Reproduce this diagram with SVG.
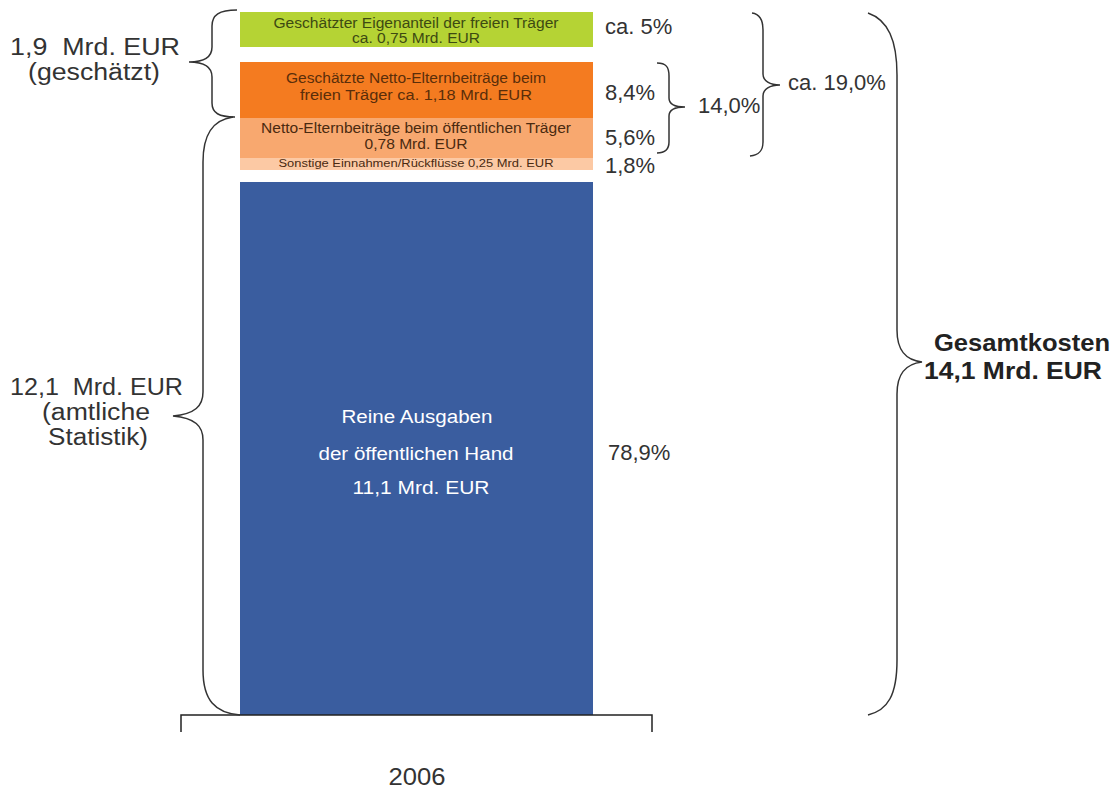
<svg xmlns="http://www.w3.org/2000/svg" width="1118" height="791" viewBox="0 0 1118 791">
<style>
.big{font-family:"Liberation Sans",Arial,sans-serif;font-size:23px;fill:#333}
.bold{font-family:"Liberation Sans",Arial,sans-serif;font-size:24px;font-weight:bold;fill:#222}
.pct{font-family:"Liberation Sans",Arial,sans-serif;font-size:22px;fill:#333}
.in{font-family:"Liberation Sans",Arial,sans-serif;font-size:14px;text-anchor:middle}
.sm{font-family:"Liberation Sans",Arial,sans-serif;font-size:10px;text-anchor:middle}
.wh{font-family:"Liberation Sans",Arial,sans-serif;font-size:18px;text-anchor:middle;fill:#fff}
.brace{fill:none;stroke:#333;stroke-width:1.5}
</style>
<rect width="1118" height="791" fill="#fff"/>
<g id="bar-green">
<rect x="240" y="12" width="353" height="35" fill="#b5d334"/>
<text class="in" x="416" y="28" fill="#3d4a12" textLength="285" lengthAdjust="spacingAndGlyphs">Geschätzter Eigenanteil der freien Träger</text>
<text class="in" x="416" y="43" fill="#3d4a12" textLength="128" lengthAdjust="spacingAndGlyphs">ca. 0,75 Mrd. EUR</text>
</g>
<g id="bar-orange">
<rect x="240" y="62" width="353" height="56" fill="#f47b20"/>
<text class="in" x="416" y="83" fill="#5a2e0a" textLength="260" lengthAdjust="spacingAndGlyphs">Geschätzte Netto-Elternbeiträge beim</text>
<text class="in" x="416" y="100" fill="#5a2e0a" textLength="232" lengthAdjust="spacingAndGlyphs">freien Träger ca. 1,18 Mrd. EUR</text>
</g>
<g id="bar-lightorange">
<rect x="240" y="118" width="353" height="40" fill="#f8a86f"/>
<text class="in" x="416" y="133" fill="#4a2a10" textLength="310" lengthAdjust="spacingAndGlyphs">Netto-Elternbeiträge beim öffentlichen Träger</text>
<text class="in" x="416" y="149" fill="#4a2a10" textLength="103" lengthAdjust="spacingAndGlyphs">0,78 Mrd. EUR</text>
</g>
<g id="bar-pale">
<rect x="240" y="158" width="353" height="12" fill="#fcc9a4"/>
<text class="sm" x="416" y="167" fill="#4a2a10" textLength="275" lengthAdjust="spacingAndGlyphs">Sonstige Einnahmen/Rückflüsse 0,25 Mrd. EUR</text>
</g>
<g id="bar-blue">
<rect x="240" y="182" width="353" height="533" fill="#3a5d9f"/>
<text class="wh" x="417" y="423" textLength="151" lengthAdjust="spacingAndGlyphs">Reine Ausgaben</text>
<text class="wh" x="416" y="460" textLength="195" lengthAdjust="spacingAndGlyphs">der öffentlichen Hand</text>
<text class="wh" x="421" y="494" textLength="137" lengthAdjust="spacingAndGlyphs">11,1 Mrd. EUR</text>
</g>
<g id="axis">
<path d="M181,732 L181,715 L652,715 L652,732" fill="none" stroke="#222" stroke-width="1.5"/>
<text class="big" x="417" y="785" text-anchor="middle" font-size="24" textLength="57" lengthAdjust="spacingAndGlyphs">2006</text>
</g>
<g id="connectors">
<path class="brace" d="M237,10 C219,10 212,15 212,26 L212,47 C212,57 205,62 189,62 C205,62 212,67 212,77 L212,103 C212,113 219,117 235,117"/>
<path class="brace" d="M233,117 C212,120 203,135 203,162 L203,392 C203,406 195,414 173,416 C195,418 203,426 203,440 L203,670 C203,700 215,713 240,715"/>
<path class="brace" d="M657,63 C666,63 669,67 669,76 L669,98 C669,104 675,107 685,107 C675,107 669,110 669,116 L669,142 C669,150 665,153 657,153"/>
<path class="brace" d="M752,13 C760,14 763,20 763,30 L763,74 C763,81 770,85 780,85 C770,85 763,89 763,96 L763,142 C763,151 759,155 750,156"/>
<path class="brace" d="M868,13 C888,20 897,40 897,75 L897,330 C897,350 905,360 922,362 C905,364 897,374 897,394 L897,660 C897,695 888,710 868,715"/>
</g>
<g id="labels">
<text class="big" x="10" y="55" xml:space="preserve" textLength="170" lengthAdjust="spacingAndGlyphs">1,9  Mrd. EUR</text>
<text class="big" x="28" y="80" textLength="132" lengthAdjust="spacingAndGlyphs">(geschätzt)</text>
<text class="big" x="10" y="395" xml:space="preserve" textLength="173" lengthAdjust="spacingAndGlyphs">12,1  Mrd. EUR</text>
<text class="big" x="42" y="420" textLength="108" lengthAdjust="spacingAndGlyphs">(amtliche</text>
<text class="big" x="48" y="445" textLength="100" lengthAdjust="spacingAndGlyphs">Statistik)</text>
<text class="pct" x="605" y="34">ca. 5%</text>
<text class="pct" x="605" y="100">8,4%</text>
<text class="pct" x="605" y="145">5,6%</text>
<text class="pct" x="605" y="173">1,8%</text>
<text class="pct" x="698" y="113">14,0%</text>
<text class="pct" x="788" y="90">ca. 19,0%</text>
<text class="pct" x="608" y="460">78,9%</text>
<text class="bold" x="934" y="351" textLength="176" lengthAdjust="spacingAndGlyphs">Gesamtkosten</text>
<text class="bold" x="924" y="379" textLength="178" lengthAdjust="spacingAndGlyphs">14,1 Mrd. EUR</text>
</g>
</svg>
